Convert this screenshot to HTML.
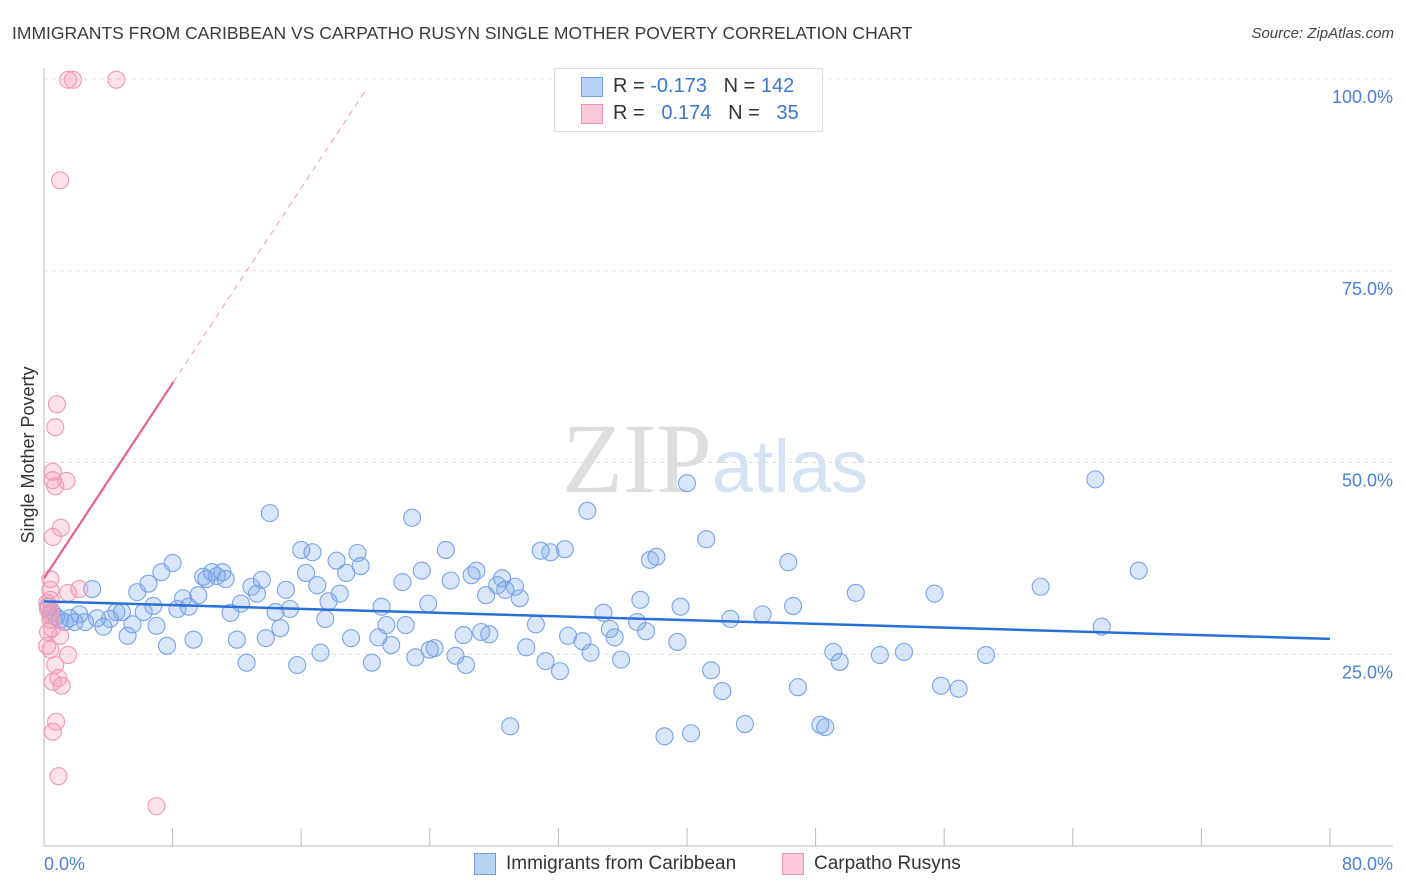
<!DOCTYPE html>
<html><head><meta charset="utf-8"><style>
body{margin:0;background:#fff;font-family:"Liberation Sans",sans-serif;}
#wrap{position:relative;width:1406px;height:892px;overflow:hidden}
.t{position:absolute;white-space:nowrap}
</style></head><body>
<div id="wrap">
<div class="t" style="left:12px;top:23px;font-size:17.5px;color:#3a3a3a">IMMIGRANTS FROM CARIBBEAN VS CARPATHO RUSYN SINGLE MOTHER POVERTY CORRELATION CHART</div>
<div class="t" style="right:12px;top:25px;font-size:15px;color:#444;font-style:italic">Source: ZipAtlas.com</div>
<svg id="svg" width="1406" height="892" style="position:absolute;left:0;top:0">
<text x="715" y="492" text-anchor="middle" font-size="100" font-family="Liberation Serif,serif" fill="#e6e6e6"><tspan fill="#dedede">ZIP</tspan><tspan font-family="Liberation Sans,sans-serif" font-size="74" fill="#d6e3f3">atlas</tspan></text>
<g id="grid"></g><g id="marks"></g><g id="lines"></g>
<text x="34" y="455" transform="rotate(-90 34 455)" text-anchor="middle" font-size="18" fill="#333">Single Mother Poverty</text>
</svg>
<div style="position:absolute;left:554px;top:68px;width:267px;height:62px;border:1px solid #ddd;background:#fff;font-size:20px">
<div style="position:absolute;left:26px;top:8px;width:20px;height:18px;background:#b9d3f5;border:1px solid #6f9fe0"></div>
<div class="t" style="left:58px;top:6px;color:#333">R = <span style="color:#3a75d6">-0.173</span>&nbsp;&nbsp;&nbsp;N = <span style="color:#3a75d6">142</span></div>
<div style="position:absolute;left:26px;top:35px;width:20px;height:18px;background:#fac9d7;border:1px solid #e995b0"></div>
<div class="t" style="left:58px;top:33px;color:#333">R = &nbsp;&nbsp;<span style="color:#3a75d6">0.174</span>&nbsp;&nbsp;&nbsp;N = &nbsp;&nbsp;<span style="color:#3a75d6">35</span></div>
</div>
<div style="position:absolute;left:474px;top:853px;width:20px;height:20px;background:#b9d3f5;border:1px solid #6f9fe0"></div>
<div class="t" style="left:506px;top:853px;font-size:19px;color:#333">Immigrants from Caribbean</div>
<div style="position:absolute;left:782px;top:853px;width:20px;height:20px;background:#fac9d7;border:1px solid #e995b0"></div>
<div class="t" style="left:814px;top:853px;font-size:19px;color:#333">Carpatho Rusyns</div>
</div>
<script>
const yTicks=[25,50,75,100];
const yTickLabels=["25.0%","50.0%","75.0%","100.0%"];
const xTickLabels=["0.0%","80.0%"];
const blueX=[0.25,0.5,0.75,1.0,1.3,1.6,1.9,2.2,2.55,3.0,3.3,3.7,4.1,4.5,4.85,5.2,5.5,5.8,6.2,6.5,6.8,7.0,7.3,7.65,8.0,8.3,8.65,9.0,9.3,9.6,9.9,10.1,10.45,10.75,11.1,11.3,11.6,12.0,12.25,12.6,12.9,13.25,13.55,13.8,14.05,14.4,14.7,15.05,15.3,15.75,16.0,16.3,16.7,17.0,17.2,17.5,17.7,18.2,18.4,18.8,19.1,19.5,19.7,20.4,20.8,21.0,21.3,21.6,22.3,22.5,22.9,23.1,23.5,23.9,24.0,24.3,25.0,25.3,25.6,26.1,26.25,26.6,26.9,27.2,27.5,27.7,28.2,28.5,28.7,29.0,29.3,29.6,30.0,30.6,30.9,31.2,31.5,32.1,32.4,32.6,33.5,33.8,34.0,34.8,35.2,35.5,35.9,36.9,37.1,37.45,37.7,38.1,38.6,39.4,39.6,40.0,40.25,41.2,41.5,42.2,42.7,43.6,44.7,46.3,46.6,46.9,48.3,48.6,49.1,49.5,50.5,52.0,53.5,55.4,55.8,56.9,58.6,62.0,65.4,65.8,68.1];
const blueY=[31.2,30.5,29.9,29.5,29.2,29.7,29.2,30.2,29.2,33.5,29.7,28.6,29.6,30.5,30.5,27.4,28.9,33.1,30.5,34.2,31.3,28.7,35.7,26.1,36.9,30.9,32.3,31.2,26.9,32.7,35.1,34.8,35.7,35.2,35.7,34.8,30.4,26.9,31.6,23.9,33.8,32.9,34.7,27.1,43.4,30.5,28.4,33.4,30.9,23.6,38.6,35.6,38.3,34.0,25.2,29.6,31.9,37.2,32.9,35.6,27.1,38.2,36.5,23.9,27.2,31.2,28.8,26.2,34.4,28.8,42.8,24.6,35.9,31.6,25.6,25.8,38.6,34.6,24.8,27.5,23.6,35.3,35.9,27.9,32.7,27.6,34.0,34.9,33.4,15.6,33.8,32.3,25.9,28.9,38.5,24.1,38.3,22.8,38.7,27.4,26.7,43.7,25.2,30.4,28.3,27.2,24.3,29.2,32.1,28.0,37.3,37.7,14.3,26.6,31.2,47.3,14.7,40.0,22.9,20.2,29.6,15.9,30.2,37.0,31.3,20.7,15.8,15.5,25.3,24.0,33.0,24.9,25.3,32.9,20.9,20.5,24.9,33.8,47.8,28.6,35.9];
const pinkX=[1.5,1.8,4.5,1.0,0.8,0.7,0.55,0.55,1.4,0.7,1.05,0.55,0.4,0.4,2.2,1.5,0.4,0.25,0.4,0.5,1.0,0.2,0.4,1.5,0.7,0.9,1.1,0.55,0.75,0.55,0.9,7.0,0.25,0.4,0.2];
const pinkY=[99.9,99.9,99.9,86.8,57.6,54.6,48.8,47.7,47.6,46.9,41.5,40.3,34.8,33.4,33.5,33.0,32.1,30.8,29.5,28.4,27.4,26.1,25.6,24.9,23.6,21.9,20.9,21.4,16.2,14.9,9.1,5.2,27.9,30.2,31.7];
const blueTrend=[31.9,27.0];
const pinkTrend=[34.9,3.18];
const NS="http://www.w3.org/2000/svg";
const X=v=>44+v*(1286/80), Y=v=>846-v*7.67;
function mk(tag,attrs,parent){const e=document.createElementNS(NS,tag);for(const k in attrs)e.setAttribute(k,attrs[k]);document.getElementById(parent).appendChild(e);return e;}
yTicks.forEach((t,i)=>{
 const g=mk('line',{x1:44,x2:1393,y1:Y(t),y2:Y(t),stroke:'#dcdcdc','stroke-dasharray':'4,4'},'grid');
 
 
 const l=mk('text',{x:1393,y:Y(t)+24,'text-anchor':'end','font-size':18,fill:'#4a80d8'},'grid');
 l.textContent=yTickLabels[i];
 
 
});
const ax=mk('line',{x1:44,x2:44,y1:68,y2:846,stroke:'#bbb'},'grid');


const bx=mk('line',{x1:44,x2:1393,y1:846,y2:846,stroke:'#bbb'},'grid');


for(let i=0;i<=10;i++){const tk=mk('line',{x1:X(i*8),x2:X(i*8),y1:828,y2:846,stroke:'#bbb'},'grid');
 
 }
[0,80].forEach((v,i)=>{const l=mk('text',{x:i?1393:44,y:870,'text-anchor':i?'end':'start','font-size':18,fill:'#4a80d8'},'grid');
 l.textContent=xTickLabels[i];
 
 });
blueX.forEach((x,i)=>{const c=mk('circle',{cx:X(x),cy:Y(blueY[i]),r:8.5,fill:'rgba(120,165,235,0.28)',stroke:'#79a3e6','stroke-width':1.1},'marks');
 
 });
pinkX.forEach((x,i)=>{const c=mk('circle',{cx:X(x),cy:Y(pinkY[i]),r:8.5,fill:'rgba(245,150,178,0.28)',stroke:'#ee98b3','stroke-width':1.1},'marks');
 
 });
const bl=mk('line',{x1:X(0),y1:Y(blueTrend[0]),x2:X(80),y2:Y(blueTrend[1]),stroke:'#2d6fd8','stroke-width':2.5},'lines');


const pl=mk('line',{x1:X(0),y1:Y(pinkTrend[0]),x2:X(8.05),y2:Y(pinkTrend[0]+pinkTrend[1]*8.05),stroke:'#e8608e','stroke-width':2.2},'lines');


const pd=mk('line',{x1:X(8.05),y1:Y(pinkTrend[0]+pinkTrend[1]*8.05),x2:X(20.1),y2:Y(pinkTrend[0]+pinkTrend[1]*20.1),stroke:'#f0a8bf','stroke-width':1.2,'stroke-dasharray':'6,5'},'lines');


</script>
</body></html>
